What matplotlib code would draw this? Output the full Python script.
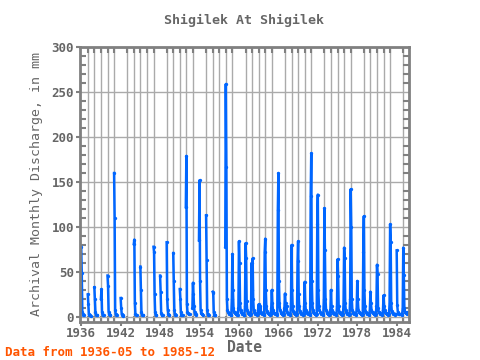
import numpy as np
import matplotlib
matplotlib.use("Agg")
import matplotlib.pyplot as plt
from matplotlib.ticker import MultipleLocator, FixedLocator

N = np.nan

# monthly discharge (mm), one row per year, Jan..Dec; N = no record
first_year = 1936
mm_1930s = [
    [N, N, N, N, 78, 49, 6, 3, 2, 2, N, N],
    [N, N, N, N, 25, 14, 3, 2, 2, 1, N, N],
    [N, N, N, N, 33, 20, 5, 2, 2, 2, N, N],
    [N, N, N, N, 20, 31, 6, 2, 2, 2, N, N],
]
mm_1940s = [
    [N, N, N, N, 46, 34, 6, 3, 2, 2, N, N],
    [N, N, N, N, 160, 110, 8, 3, 2, 2, N, N],
    [N, N, N, N, 21, 10, 3, 2, 2, 1, N, N],
    [N, N, N, N, N, N, N, N, N, N, N, N],
    [N, N, N, N, 81, 86, 15, 3, 2, 2, N, N],
    [N, N, N, N, 56, 30, 5, 2, 2, 2, N, N],
    [N, N, N, N, N, N, N, N, N, N, N, N],
    [N, N, N, N, 78, 72, 25, 5, 2, 2, N, N],
    [N, N, N, N, 46, 28, 4, 2, 2, 2, N, N],
    [N, N, N, N, 83, 20, 8, 3, 2, 2, N, N],
]
mm_1950s = [
    [N, N, N, N, 71, 40, 8, 3, 2, 2, N, N],
    [N, N, N, N, 31, 20, 5, 2, 2, 2, N, N],
    [N, N, N, 122, 179, 14, 6, 4, 3, 3, 3, N],
    [N, N, N, 10, 38, 25, 12, 5, 3, 3, 2, N],
    [N, N, N, 85, 152, 40, 8, 4, 3, 3, 2, N],
    [N, N, N, N, 113, 63, 8, 3, 2, 2, N, N],
    [N, N, N, N, 28, 27, 5, 2, 2, 2, N, N],
    [N, N, N, N, N, N, N, N, N, N, N, N],
    [N, N, N, 78, 259, 167, 20, 8, 5, 4, 3, 3],
    [3, 2, 2, 20, 70, 30, 10, 6, 5, 4, 3, 3],
]
mm_1960s = [
    [3, 2, 2, 10, 84, 60, 15, 8, 5, 4, 3, 3],
    [3, 2, 2, 12, 82, 66, 18, 8, 6, 4, 3, 3],
    [3, 2, 3, 60, 30, 65, 20, 8, 5, 4, 3, 3],
    [3, 2, 3, 8, 14, 10, 6, 12, 5, 4, 3, 3],
    [3, 2, 3, 72, 87, 30, 12, 7, 5, 4, 3, 3],
    [3, 2, 3, 10, 30, 15, 8, 5, 4, 4, 3, 3],
    [3, 2, 3, 119, 160, 40, 15, 8, 6, 4, 3, 3],
    [3, 2, 3, 10, 26, 15, 8, 12, 5, 4, 3, 3],
    [3, 2, 3, 15, 80, 30, 12, 7, 5, 4, 3, 3],
    [3, 2, 3, 62, 84, 25, 12, 7, 5, 4, 3, 3],
]
mm_1970s = [
    [3, 2, 3, 12, 39, 15, 8, 6, 5, 4, 3, 3],
    [3, 2, 3, 134, 182, 40, 15, 8, 6, 4, 3, 3],
    [3, 2, 3, 103, 136, 30, 12, 8, 6, 4, 3, 3],
    [3, 2, 3, 20, 121, 74, 20, 8, 6, 4, 3, 3],
    [3, 2, 3, 8, 30, 12, 8, 5, 4, 4, 3, 3],
    [3, 2, 3, 12, 64, 45, 12, 6, 5, 4, 3, 3],
    [3, 2, 3, 15, 77, 66, 15, 8, 5, 4, 3, 3],
    [3, 2, 3, 20, 142, 100, 20, 8, 6, 4, 3, 3],
    [3, 2, 3, 10, 40, 20, 8, 6, 5, 4, 3, 3],
    [3, 2, 3, 72, 112, 30, 12, 7, 5, 4, 3, 3],
]
mm_1980s = [
    [3, 2, 3, 8, 28, 15, 8, 6, 5, 4, 3, 3],
    [3, 2, 3, 12, 58, 48, 10, 6, 5, 4, 3, 3],
    [3, 2, 3, 8, 24, 12, 8, 5, 4, 4, 3, 3],
    [3, 2, 3, 15, 103, 83, 15, 7, 5, 4, 3, 3],
    [3, 2, 3, N, 74, 13, 6, 4, 3, 3, 3, 3],
    [3, 2, 3, 10, 77, 47, 10, 6, 5, 4, 3, 5],
]

tick_years = [1936, 1942, 1948, 1954, 1960, 1966, 1972, 1978, 1984]

rows = mm_1930s + mm_1940s + mm_1950s + mm_1960s + mm_1970s + mm_1980s
values = np.array(rows, dtype=float).ravel()
dates = np.array([first_year + i / 12.0 for i in range(len(values))])

grey = "#666666"
mono = "DejaVu Sans Mono"

fig = plt.figure(figsize=(4.8, 3.6), dpi=100)
ax = fig.add_axes([0.166, 0.106, 0.686, 0.763])

ax.plot(dates, values, color="#0066ff", lw=1.8, marker="o", ms=2.4, mew=0)

ax.set_xlim(1936.1, 1986.2)
ax.set_ylim(-5.5, 300)

# tick marks sit at May of each labelled year
ax.xaxis.set_major_locator(FixedLocator([y + 4 / 12 for y in tick_years]))
ax.set_xticklabels([str(y) for y in tick_years])
ax.xaxis.set_minor_locator(FixedLocator([y + 4 / 12 for y in range(1936, 1986)]))
ax.yaxis.set_major_locator(MultipleLocator(50))
ax.yaxis.set_minor_locator(MultipleLocator(10))

ax.grid(True, which="minor", axis="x", color="#aaaaaa", lw=1)
ax.grid(True, which="major", axis="y", color="#aaaaaa", lw=1)
ax.set_axisbelow(True)

ax.tick_params(which="major", direction="out", length=3, width=1.5, pad=1,
               color="#808080", labelcolor=grey, labelsize=9)
ax.tick_params(which="minor", direction="in", length=4, width=1.5,
               color="#808080", top=True, right=True)
for lab in ax.get_xticklabels() + ax.get_yticklabels():
    lab.set_family(mono)
    lab.set_weight("bold")

for sp in ax.spines.values():
    sp.set_color("#808080")
    sp.set_linewidth(2)

ax.set_title("Shigilek At Shigilek", family=mono, weight="bold",
             color=grey, fontsize=9.5, pad=17)
ax.set_ylabel("Archival Monthly Discharge, in mm", family=mono,
              color=grey, fontsize=9.5, labelpad=6)
ax.set_xlabel("Date", family=mono, weight="bold", color=grey,
              fontsize=10.5, labelpad=0)

fig.text(0.01, 0.012, "Data from 1936-05 to 1985-12", family=mono,
         weight="bold", color="#ff5500", fontsize=9)

fig.savefig("out.png", dpi=100)
